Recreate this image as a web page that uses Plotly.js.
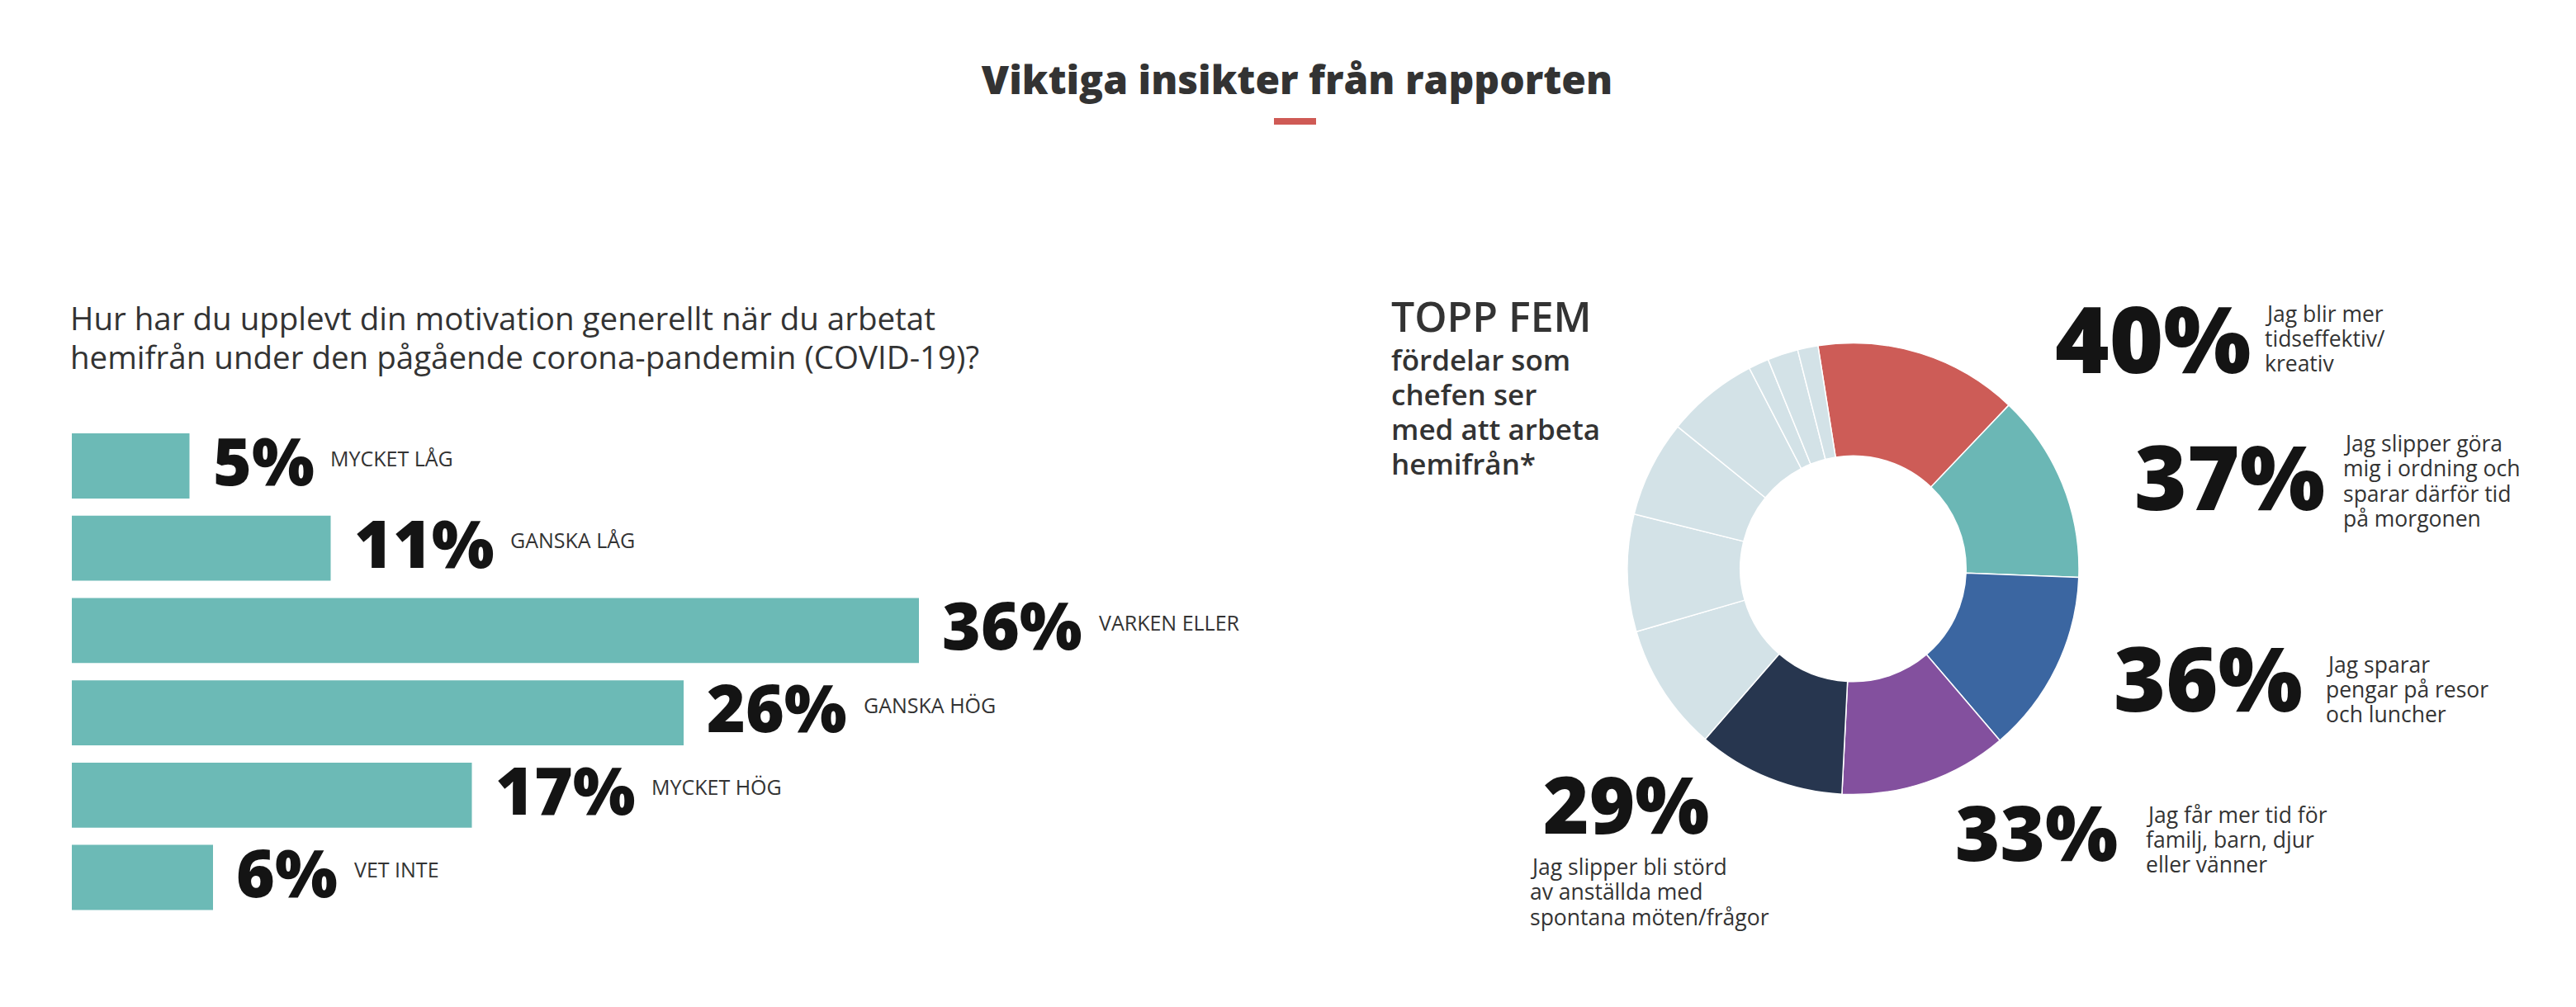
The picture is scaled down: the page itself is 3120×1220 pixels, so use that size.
<!DOCTYPE html>
<html>
<head>
<meta charset="utf-8">
<script src="https://cdn.plot.ly/plotly-3.0.1.min.js"></script>
<style>
html,body{margin:0;padding:0;background:#fff;}
#chart{width:3120px;height:1220px;}
</style>
</head>
<body>
<div id="chart"></div>
<script>
// ---------------- DATA ----------------
const pageTitle = 'Viktiga insikter från rapporten';

const motivationQuestion = [
  'Hur har du upplevt din motivation generellt när du arbetat',
  'hemifrån under den pågående corona-pandemin (COVID-19)?'
];
const motivationCategories = ['MYCKET LÅG', 'GANSKA LÅG', 'VARKEN ELLER', 'GANSKA HÖG', 'MYCKET HÖG', 'VET INTE'];
const motivationValues = [5, 11, 36, 26, 17, 6];

const donutHeading = 'TOPP FEM';
const donutSubheading = ['fördelar som', 'chefen ser', 'med att arbeta', 'hemifrån*'];

const benefitLabels = [
  'Jag blir mer tidseffektiv/kreativ',
  'Jag slipper göra mig i ordning och sparar därför tid på morgonen',
  'Jag sparar pengar på resor och luncher',
  'Jag får mer tid för familj, barn, djur eller vänner',
  'Jag slipper bli störd av anställda med spontana möten/frågor',
  'Övrig fördel 1', 'Övrig fördel 2', 'Övrig fördel 3', 'Övrig fördel 4',
  'Övrig fördel 5', 'Övrig fördel 6', 'Övrig fördel 7'
];
const benefitValues = [40, 37, 36, 33, 29, 25, 23, 19, 18, 4, 6, 4];
const topFiveText = [
  ['Jag blir mer', 'tidseffektiv/', 'kreativ'],
  ['Jag slipper göra', 'mig i ordning och', 'sparar därför tid', 'på morgonen'],
  ['Jag sparar', 'pengar på resor', 'och luncher'],
  ['Jag får mer tid för', 'familj, barn, djur', 'eller vänner'],
  ['Jag slipper bli störd', 'av anställda med', 'spontana möten/frågor']
];

// ---------------- STYLE ----------------
const W = 3120, H = 1220;
const FONT = 'Open Sans';
const TXT = '#333333';
const BLACK = '#141414';
const barColor = '#6cbab6';
const benefitColors = ['#cd5c57', '#6bb7b5', '#3b66a1', '#83509e', '#27364f',
  '#d3e2e7', '#d3e2e7', '#d3e2e7', '#d3e2e7', '#d3e2e7', '#d3e2e7', '#d3e2e7'];

// donut geometry (px)
const donutCx = 2244.5, donutCy = 689, donutR = 273.5;

// label placement for the donut (left px, cap-top px, font size)
const bigPctPos = [[2489, 372, 112], [2585, 540, 109], [2560, 785, 108], [2368, 977, 93], [1869, 942, 95]];
// small texts (left px, first baseline px, font size, line step)
const smallTxtPos = [[2743, 390, 26.5, 30], [2838, 547, 26.5, 30.5], [2817, 815, 26.5, 30], [2599, 997, 26.5, 30], [1853, 1060, 26.5, 30.5]];

// ---------------- HELPERS ----------------
const ASC = 1.069, CAP = 0.714, LS = 1.3;
function textAnn(text, leftPx, baselinePx, size, weight, color, topSize) {
  const ts = topSize || size;
  return {
    text: text, xref: 'paper', yref: 'paper',
    x: leftPx / W, y: 1 - (baselinePx - ASC * ts) / H,
    xanchor: 'left', yanchor: 'top', align: 'left',
    showarrow: false, borderpad: 0, borderwidth: 0,
    font: {family: FONT, size: size, weight: weight, color: color}
  };
}
function sized(t, px) { return '<span style="font-size:' + px + 'px">' + t + '</span>'; }
const ctx = document.createElement('canvas').getContext('2d');
function measure(text, size, weight) {
  ctx.font = weight + ' ' + size + 'px "' + FONT + '"';
  return ctx.measureText(text).width;
}

const annotations = [];

// question text (line step 47px)
const Q_SIZE = 38.5, Q_STEP = 47;
annotations.push(textAnn(motivationQuestion.map(l => sized(l, Q_SIZE)).join('<br>'),
  85, 400, Q_STEP / LS, 400, TXT, Q_SIZE));

// bar labels
const PCT_SIZE = 80, CAT_SIZE = 25;
motivationCategories.forEach((cat, i) => {
  const pct = motivationValues[i] + '%';
  const w = measure(pct, PCT_SIZE, 800);
  annotations.push({
    x: motivationValues[i], y: cat, xref: 'x', yref: 'y',
    text: pct, xanchor: 'left', yanchor: 'middle', xshift: 28, yshift: 8,
    showarrow: false, borderpad: 0, borderwidth: 0,
    font: {family: FONT, size: PCT_SIZE, weight: 800, color: BLACK}
  });
  annotations.push({
    x: motivationValues[i], y: cat, xref: 'x', yref: 'y',
    text: cat, xanchor: 'left', yanchor: 'middle', xshift: 28 + w + 20, yshift: 10,
    showarrow: false, borderpad: 0, borderwidth: 0,
    font: {family: FONT, size: CAT_SIZE, weight: 400, color: TXT}
  });
});

// donut heading block
const HEAD_SIZE = 50, SUB_SIZE = 35, SUB_STEP = 42;
annotations.push(textAnn(donutHeading, 1685, 402, HEAD_SIZE, 600, TXT));
annotations.push(textAnn(donutSubheading.map(l => sized(l, SUB_SIZE)).join('<br>'),
  1685, 449, SUB_STEP / LS, 600, TXT, SUB_SIZE));

// donut labels
for (let i = 0; i < 5; i++) {
  const [lx, capTop, sz] = bigPctPos[i];
  annotations.push(textAnn(benefitValues[i] + '%', lx, capTop + CAP * sz, sz, 800, BLACK));
  const [tx, tb, fs, step] = smallTxtPos[i];
  topFiveText[i].forEach((line, j) => {
    annotations.push(textAnn(line, tx, tb + j * step, fs, 400, TXT));
  });
}

// ---------------- TRACES ----------------
const barTrace = {
  type: 'bar', orientation: 'h',
  x: motivationValues, y: motivationCategories,
  marker: {color: barColor, line: {width: 0}},
  hoverinfo: 'skip', showlegend: false,
  xaxis: 'x', yaxis: 'y'
};

const pieTrace = {
  type: 'pie', labels: benefitLabels, values: benefitValues,
  marker: {colors: benefitColors, line: {color: '#ffffff', width: 1.5}},
  hole: 0.5, sort: false, direction: 'clockwise', rotation: -8.97,
  textinfo: 'none', hoverinfo: 'skip', showlegend: false,
  domain: {
    x: [(donutCx - donutR) / W, (donutCx + donutR) / W],
    y: [1 - (donutCy + donutR) / H, 1 - (donutCy - donutR) / H]
  }
};

// ---------------- LAYOUT ----------------
const layout = {
  width: W, height: H,
  margin: {l: 0, r: 0, t: 0, b: 0},
  paper_bgcolor: '#ffffff', plot_bgcolor: '#ffffff',
  showlegend: false,
  title: {
    text: pageTitle, x: 1571 / W, xanchor: 'center',
    y: 1 - 97.5 / H, yanchor: 'middle',
    font: {family: FONT, size: 48, weight: 800, color: TXT}
  },
  bargap: 0.21,
  xaxis: {domain: [87 / W, (87 + 40 * 28.5) / W], range: [0, 40], visible: false, fixedrange: true},
  yaxis: {domain: [1 - 1112.85 / H, 1 - 514.65 / H], range: [5.5, -0.5], visible: false, type: 'category', fixedrange: true},
  shapes: [{
    type: 'rect', xref: 'paper', yref: 'paper',
    x0: 1543 / W, x1: 1594 / W, y0: 1 - 151 / H, y1: 1 - 143 / H,
    fillcolor: '#cf5a55', line: {width: 0}
  }],
  annotations: annotations,
  hovermode: false
};

Plotly.newPlot('chart', [barTrace, pieTrace], layout, {displayModeBar: false, staticPlot: true});
</script>
</body>
</html>
